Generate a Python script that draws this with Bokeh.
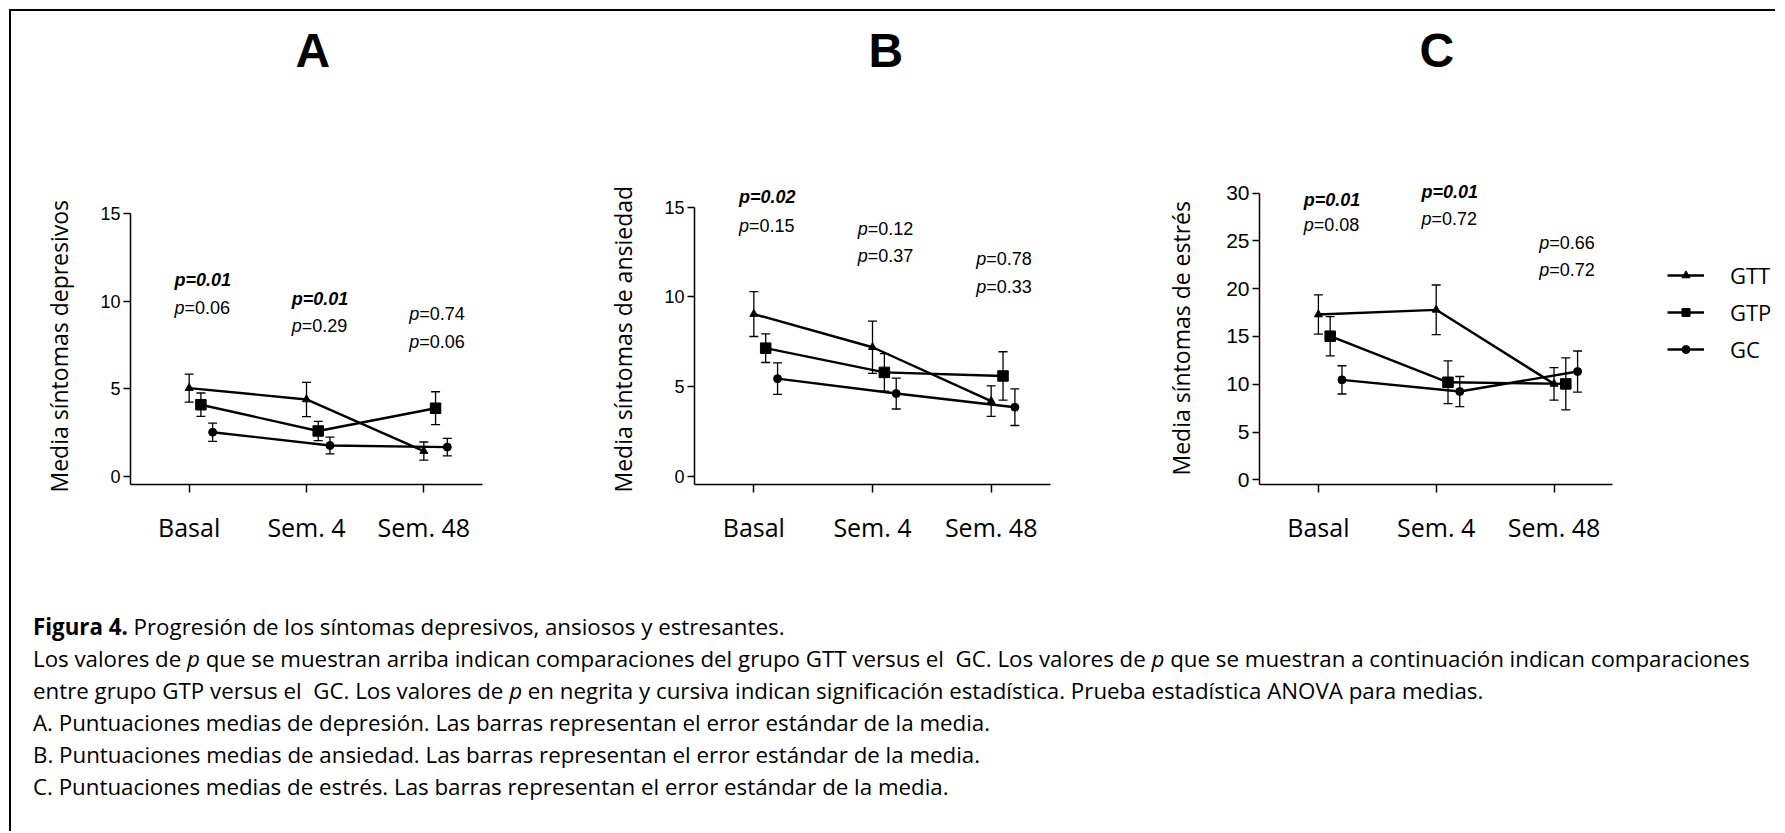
import numpy as np
from bokeh.plotting import figure
from bokeh.models import (ColumnDataSource, Whisker, FixedTicker, Legend, LegendItem,
                          Div, TeeHead, Title)
from bokeh.layouts import row, column
from bokeh.core.properties import value
from bokeh.embed import file_html
from bokeh.resources import INLINE

# ---------------- data ----------------
categories = ["Basal", "Sem. 4", "Sem. 48"]
groups = ["GTT", "GTP", "GC"]

# A: depresión (media, error estándar)
dep_GTT = [5.05, 4.40, 1.45]
dep_GTT_se = [0.80, 0.98, 0.52]
dep_GTP = [4.10, 2.60, 3.90]
dep_GTP_se = [0.67, 0.55, 0.94]
dep_GC = [2.53, 1.77, 1.68]
dep_GC_se = [0.52, 0.48, 0.50]

# B: ansiedad
anx_GTT = [9.05, 7.20, 4.20]
anx_GTT_se = [1.25, 1.45, 0.85]
anx_GTP = [7.15, 5.80, 5.60]
anx_GTP_se = [0.80, 1.05, 1.35]
anx_GC = [5.45, 4.62, 3.86]
anx_GC_se = [0.88, 0.86, 1.02]

# C: estrés
str_GTT = [17.30, 17.79, 10.04]
str_GTT_se = [2.05, 2.60, 1.70]
str_GTP = [15.03, 10.21, 10.04]
str_GTP_se = [2.05, 2.23, 2.72]
str_GC = [10.46, 9.24, 11.33]
str_GC_se = [1.48, 1.57, 2.15]

# p values: top = GTT vs GC, bottom = GTP vs GC
dep_p_top = ["0.01", "0.01", "0.74"]
dep_p_top_sig = [True, True, False]
dep_p_bot = ["0.06", "0.29", "0.06"]
anx_p_top = ["0.02", "0.12", "0.78"]
anx_p_top_sig = [True, False, False]
anx_p_bot = ["0.15", "0.37", "0.33"]
str_p_top = ["0.01", "0.01", "0.66"]
str_p_top_sig = [True, True, False]
str_p_bot = ["0.08", "0.72", "0.72"]

dep_ticks = [0, 5, 10, 15]
anx_ticks = [0, 5, 10, 15]
str_ticks = [0, 5, 10, 15, 20, 25, 30]

# ---------------- layout / style ----------------
H = 598
TOP = 69
BOTTOM = 125
offsets = [0.0, 0.1, 0.2]
markers = ["triangle", "square", "circle"]
msizes = [8, 10.5, 8]
NUM = "Liberation Sans"
TXT = "Open Sans"


def panel(letter, ylabel, means, ses, ticks, yr, ymax, xr, width, left, right,
          p_top, p_top_sig, p_bot, ytop_lab, ybot_lab, title_off,
          tick_size, ylab_standoff, ylab_offset, legend=None):
    p = figure(width=width, height=H, x_range=xr, y_range=yr,
               output_backend="svg", toolbar_location=None,
               min_border_left=left, min_border_right=right,
               min_border_top=TOP, min_border_bottom=BOTTOM)
    p.outline_line_color = None
    p.xgrid.visible = False
    p.ygrid.visible = False
    p.background_fill_color = "white"
    p.border_fill_color = "white"

    p.title.text = letter
    p.title.text_font = NUM
    p.title.text_font_size = "48px"
    p.title.text_font_style = "bold"
    p.title.text_color = "black"
    p.title.align = "left"
    p.title.offset = title_off
    p.title.standoff = 8

    # axes
    for ax in (p.xaxis[0], p.yaxis[0]):
        ax.axis_line_width = 1.5
        ax.axis_line_color = "black"
        ax.major_tick_line_color = "black"
        ax.major_tick_line_width = 1.5
        ax.minor_tick_line_color = None
        ax.major_tick_in = 0
        ax.major_label_text_color = "black"
    xa = p.xaxis[0]
    xa.ticker = FixedTicker(ticks=list(range(len(categories))))
    xa.major_label_overrides = {i: c for i, c in enumerate(categories)}
    xa.major_tick_out = 8
    xa.major_label_text_font = TXT
    xa.major_label_text_font_size = "25px"
    xa.major_label_standoff = 17
    xa.bounds = (-0.5, len(categories) - 0.5)

    ya = p.yaxis[0]
    ya.ticker = FixedTicker(ticks=ticks)
    ya.major_tick_out = 7
    ya.major_label_text_font = NUM
    ya.major_label_text_font_size = tick_size
    ya.major_label_standoff = 3
    ya.bounds = (yr[0], ymax)

    # y-axis title, anchored along the drawn part of the axis
    p.add_layout(Title(text=ylabel, align="left", offset=ylab_offset,
                       standoff=ylab_standoff, text_font=TXT, text_font_size="23px",
                       text_font_style="normal", text_color="black"), "left")

    items = []
    base = np.arange(len(categories))
    for g, name in enumerate(groups):
        xs = base + offsets[g]
        m = np.array(means[g])
        s = np.array(ses[g])
        src = ColumnDataSource(dict(x=xs, y=m, upper=m + s, lower=m - s))
        w = Whisker(base="x", upper="upper", lower="lower", source=src,
                    line_color="black", line_width=1.3,
                    upper_head=TeeHead(size=9, line_width=1.3, line_color="black"),
                    lower_head=TeeHead(size=9, line_width=1.3, line_color="black"),
                    level="glyph")
        p.add_layout(w)
        lr = p.line("x", "y", source=src, line_color="black", line_width=2.4)
        sr = p.scatter("x", "y", source=src, marker=markers[g], size=msizes[g],
                       fill_color="black", line_color="black")
        items.append(LegendItem(label=name, renderers=[lr, sr]))

    # p-value annotations
    lab_x = base - 0.125
    sig_idx = [i for i in range(len(p_top)) if p_top_sig[i]]
    ns_idx = [i for i in range(len(p_top)) if not p_top_sig[i]]
    common = dict(text_font=value(NUM), text_font_size="18px",
                  text_baseline="middle", text_align="left", text_color="black")
    if sig_idx:
        p.text(x=[lab_x[i] for i in sig_idx], y=[ytop_lab[i] for i in sig_idx],
               text=["p=" + p_top[i] for i in sig_idx],
               text_font_style="bold italic", **common)
    ns_x = [lab_x[i] for i in ns_idx] + list(lab_x)
    ns_y = [ytop_lab[i] for i in ns_idx] + list(ybot_lab)
    ns_t = [p_top[i] for i in ns_idx] + list(p_bot)
    p.text(x=ns_x, y=ns_y, text=["p"] * len(ns_x), text_font_style="italic", **common)
    p.text(x=ns_x, y=ns_y, text=["=" + t for t in ns_t], x_offset=10, **common)

    if legend is not None:
        lg = Legend(items=items, location=legend)
        lg.orientation = "vertical"
        lg.border_line_color = None
        lg.background_fill_alpha = 0
        lg.label_text_font = TXT
        lg.label_text_font_size = "22px"
        lg.label_text_color = "black"
        lg.glyph_width = 37
        lg.glyph_height = 20
        lg.label_height = 30
        lg.label_standoff = 26
        lg.spacing = 7
        lg.padding = 10
        lg.margin = 0
        p.add_layout(lg)
    return p


pA = panel("A", "Media síntomas depresivos",
           [dep_GTT, dep_GTP, dep_GC], [dep_GTT_se, dep_GTP_se, dep_GC_se],
           dep_ticks, (-0.457, 22.62), 15, (-0.5, 2.5), 571, 119, 100,
           dep_p_top, dep_p_top_sig, dep_p_bot,
           [11.2, 10.15, 9.29], [9.6, 8.62, 7.67], 165, "18px", 45, -8)
pB = panel("B", "Media síntomas de ansiedad",
           [anx_GTT, anx_GTP, anx_GC], [anx_GTT_se, anx_GTP_se, anx_GC_se],
           anx_ticks, (-0.446, 22.06), 15, (-0.5, 2.5), 552, 110, 84,
           anx_p_top, anx_p_top_sig, anx_p_bot,
           [15.56, 13.76, 12.09], [13.98, 12.26, 10.58], 174, "18px", 45, -8)
pC = panel("C", "Media síntomas de estrés",
           [str_GTT, str_GTP, str_GC], [str_GTT_se, str_GTP_se, str_GC_se],
           str_ticks, (-0.49, 41.79), 30, (-0.5, 3.88), 641, 125, 0,
           str_p_top, str_p_top_sig, str_p_bot,
           [29.3, 30.17, 24.78], [26.68, 27.31, 21.92], 160, "21px", 54, 9,
           legend=(408, 120))

caption_html = """<div style="width:1764px;overflow:hidden;white-space:nowrap;
font-family:'Open Sans';font-size:22.3px;line-height:32px;color:#000;padding-left:22px;padding-top:2px;box-sizing:border-box;">
<b>Figura 4.</b> Progresión de los síntomas depresivos, ansiosos y estresantes.<br>
Los valores de <i>p</i> que se muestran arriba indican comparaciones del grupo GTT versus el&nbsp; GC. Los valores de <i>p</i> que se muestran a continuación indican comparaciones<br>
entre grupo GTP versus el&nbsp; GC. Los valores de <i>p</i> en negrita y cursiva indican significación estadística. Prueba estadística ANOVA para medias.<br>
A. Puntuaciones medias de depresión. Las barras representan el error estándar de la media.<br>
B. Puntuaciones medias de ansiedad. Las barras representan el error estándar de la media.<br>
C. Puntuaciones medias de estrés. Las barras representan el error estándar de la media.
</div>"""
cap = Div(text=caption_html, width=1764, height=222, margin=0)

layout = column(row(pA, pB, pC), cap,
                styles={"border-top": "2px solid black", "border-left": "2px solid black"},
                margin=(9, 0, 0, 9))

open("out.html", "w").write(file_html(layout, INLINE))
